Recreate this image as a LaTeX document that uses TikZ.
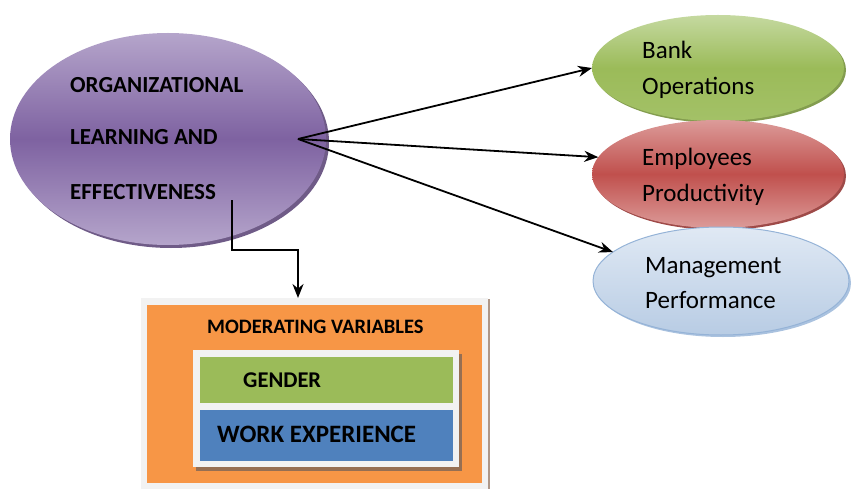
\documentclass[tikz,border=0pt]{standalone}
\usepackage{fontspec}
\setmainfont{Carlito}
\usetikzlibrary{arrows.meta,shapes.geometric,shadows,positioning}

\definecolor{purpleL}{HTML}{B5A5CB}
\definecolor{purpleD}{HTML}{7E62A1}
\definecolor{purpleS}{HTML}{5F497A}
\definecolor{greenL}{HTML}{C5D9A0}
\definecolor{greenD}{HTML}{9BBB59}
\definecolor{greenS}{HTML}{76923C}
\definecolor{redL}{HTML}{DC9B99}
\definecolor{redD}{HTML}{C0504D}
\definecolor{redS}{HTML}{943634}
\definecolor{blueL}{HTML}{E0E9F4}
\definecolor{blueD}{HTML}{B8CCE4}
\definecolor{blueB}{HTML}{95B3D7}
\definecolor{orangeF}{HTML}{F79646}
\definecolor{frameF}{HTML}{F2F2F2}
\definecolor{brownS}{HTML}{8C6B55}
\definecolor{blueF}{HTML}{4F81BD}

\begin{document}
\begin{tikzpicture}[x=1pt, y=-1pt,
    oval/.style={ellipse, inner sep=0pt, outer sep=0pt},
    ovaltext/.style={anchor=base west, inner sep=0pt, font=\fontsize{25}{29}\selectfont},
    boldtext/.style={anchor=base west, inner sep=0pt, font=\bfseries\fontsize{23}{27}\selectfont},
    panel/.style={rectangle, inner sep=0pt, outer sep=0pt},
    link/.style={-{Stealth[length=14pt,width=11pt]}, line width=1.8pt}]
    \useasboundingbox (0,0) rectangle (853,489);

    % Main ellipse
    \node[oval, minimum width=316pt, minimum height=212pt,
          top color=purpleL, bottom color=purpleL, middle color=purpleD,
          drop shadow={shadow xshift=3pt, shadow yshift=-3pt, fill=purpleS, opacity=0.9}]
          (org) at (168,139) {};
    \node[boldtext] (org1) at (70,93) {ORGANIZATIONAL};
    \node[boldtext] (org2) at (70,145) {LEARNING AND};
    \node[boldtext] (org3) at (70,200) {EFFECTIVENESS};

    % Outcome ellipses
    \node[oval, minimum width=252pt, minimum height=106pt,
          top color=greenL, bottom color=greenD!80!greenL, middle color=greenD,
          drop shadow={shadow xshift=2pt, shadow yshift=-2pt, fill=greenS, opacity=0.9}]
          (bank) at (718,68) {};
    \node[ovaltext] (bank1) at (642,59) {Bank};
    \node[ovaltext] (bank2) at (642,95) {Operations};

    \node[oval, minimum width=252pt, minimum height=108pt,
          top color=redL, bottom color=redL, middle color=redD,
          drop shadow={shadow xshift=2pt, shadow yshift=-2pt, fill=redS, opacity=0.9}]
          (prod) at (718,174) {};
    \node[ovaltext] (prod1) at (642,166) {Employees};
    \node[ovaltext] (prod2) at (642,201) {Productivity};

    \node[oval, minimum width=256pt, minimum height=108pt, draw=blueB, line width=1pt,
          top color=blueL, bottom color=blueD,
          drop shadow={shadow xshift=2pt, shadow yshift=-2pt, fill=blueB, opacity=0.8}]
          (mgmt) at (721,281) {};
    \node[ovaltext] (mgmt1) at (645,273) {Management};
    \node[ovaltext] (mgmt2) at (645,308) {Performance};

    % Arrows to outcomes
    \coordinate (src) at (298,139);
    \draw[link] (src) -- (bank.west);
    \draw[link] (src) -- (prod.172);
    \draw[link] (src) -- (mgmt.165);

    % Moderating box
    \node[panel, fill=frameF, minimum width=347pt, minimum height=191pt,
          drop shadow={shadow xshift=2pt, shadow yshift=-1pt, fill=brownS, opacity=0.7}]
          (modframe) at (314.5,393.5) {};
    \node[panel, fill=orangeF, minimum width=335pt, minimum height=178pt] (modbox) at (314.5,394) {};
    \node[boldtext, font=\bfseries\fontsize{20.5}{24}\selectfont] (modtitle) at (207,333) {MODERATING VARIABLES};

    \node[panel, fill=frameF, minimum width=266pt, minimum height=117pt,
          drop shadow={shadow xshift=3pt, shadow yshift=-4pt, fill=brownS, opacity=0.9}]
          (varframe) at (326,408.5) {};
    \node[panel, fill=greenD, minimum width=253pt, minimum height=46pt] (gender) at (326.5,380) {};
    \node[panel, fill=blueF, minimum width=253pt, minimum height=51pt] (work) at (326.5,435.5) {};
    \node[boldtext, font=\bfseries\fontsize{22.5}{26}\selectfont] (gendertext) at (243,387) {GENDER};
    \node[boldtext, font=\bfseries\fontsize{25}{29}\selectfont] (worktext) at (217,442) {WORK EXPERIENCE};

    % Elbow connector
    \coordinate (elb) at (232,200);
    \coordinate (modin) at (298,298);
    \draw[link] (elb) -- (232,250) -| (modin);
\end{tikzpicture}
\end{document}
